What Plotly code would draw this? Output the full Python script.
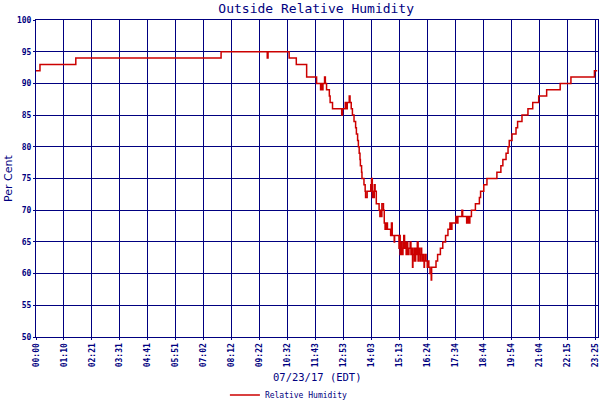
import plotly.graph_objects as go

# Data: minutes since midnight (07/23/17) and relative humidity (%)
time_min = [0, 10, 100, 465, 581, 583, 636, 654, 680, 705, 715, 717, 720, 721, 725, 727, 730,
            737, 739, 745, 768, 770, 777, 780, 782, 787, 789, 792, 795, 799, 803, 805, 808,
            810, 812, 814, 815, 818, 819, 824, 827, 828, 832, 841, 843, 845, 847, 849, 850,
            852, 855, 862, 864, 865, 867, 869, 873, 875, 877, 878, 880, 882, 883, 891, 893,
            895, 900, 901, 912, 913, 915, 917, 920, 922, 924, 926, 929, 930, 932, 934, 935,
            937, 940, 942, 944, 946, 947, 950, 951, 954, 955, 958, 960, 961, 963, 965, 967,
            969, 971, 973, 975, 976, 979, 980, 983, 985, 987, 990, 993, 994, 1005, 1009,
            1016, 1022, 1029, 1035, 1040, 1043, 1045, 1055, 1058, 1060, 1070, 1072, 1082,
            1084, 1087, 1090, 1094, 1104, 1114, 1117, 1125, 1133, 1158, 1168, 1173, 1181,
            1186, 1189, 1196, 1206, 1210, 1221, 1236, 1248, 1263, 1283, 1317, 1344, 1403,
            1410]
rel_humidity = [92, 93, 94, 95, 94, 95, 94, 93, 91, 90, 89, 90, 89, 90, 91, 90, 89,
                88, 87, 86, 85, 86, 87, 86, 87, 88, 87, 86, 85, 84, 83, 82, 81,
                80, 79, 78, 77, 76, 75, 74, 73, 72, 73, 74, 75, 72, 73, 72, 74,
                73, 71, 70, 69, 70, 69, 71, 70, 68, 67, 68, 67, 68, 67, 66, 68,
                66, 65, 66, 64, 66, 63, 65, 63, 64, 66, 64, 65, 63, 65, 64, 63,
                64, 65, 63, 64, 61, 63, 64, 62, 64, 63, 65, 62, 64, 63, 62, 64,
                63, 62, 63, 61, 62, 63, 62, 61, 62, 61, 60, 59, 61, 62, 63,
                64, 65, 66, 67, 68, 67, 68, 69, 68, 69, 70, 69, 68,
                69, 68, 69, 70, 71, 72, 73, 74, 75, 76, 77, 78, 79,
                80, 81, 82, 83, 84, 85, 86, 87, 88, 89, 90, 91, 92,
                92]

tick_labels = ["00:00", "01:10", "02:21", "03:31", "04:41", "05:51", "07:02", "08:12",
               "09:22", "10:32", "11:43", "12:53", "14:03", "15:13", "16:24", "17:34",
               "18:44", "19:54", "21:04", "22:15", "23:25"]
tick_step = 70.275
y_ticks = [50, 55, 60, 65, 70, 75, 80, 85, 90, 95, 100]

NAVY = "#000080"
RED = "#cc0000"
MONO = "DejaVu Sans Mono"

fig = go.Figure()
fig.add_trace(go.Scatter(
    x=time_min, y=rel_humidity, mode="lines", name="Relative Humidity",
    line=dict(color=RED, width=1.5, shape="hv"),
))

fig.update_layout(
    width=600, height=400,
    paper_bgcolor="white", plot_bgcolor="white",
    margin=dict(l=36, r=2, t=20, b=63, autoexpand=False),
    title=dict(text="Outside Relative Humidity", x=0.527, xanchor="center",
               y=0.98, yanchor="middle", yref="container",
               font=dict(family=MONO, size=13, color=NAVY)),
    showlegend=True,
    legend=dict(orientation="h", x=0.45, xanchor="center", y=-0.183, yanchor="middle",
                font=dict(family=MONO, size=8, color=NAVY),
                bgcolor="rgba(0,0,0,0)", itemwidth=30),
    annotations=[
        dict(text="07/23/17 (EDT)", xref="paper", yref="paper", x=0.5, y=-0.126,
             xanchor="center", yanchor="middle", showarrow=False,
             font=dict(family=MONO, size=10.5, color=NAVY)),
        dict(text="Per Cent", xref="paper", yref="paper", x=-0.049, y=0.5,
             xanchor="center", yanchor="middle", showarrow=False, textangle=-90,
             font=dict(family="DejaVu Sans", size=11, color=NAVY)),
    ],
)

fig.update_xaxes(
    range=[0, 1412], tickmode="array", automargin=False,
    tickvals=[i * tick_step for i in range(len(tick_labels))],
    ticktext=tick_labels, tickangle=-90, ticklabeloverflow="allow",
    tickfont=dict(family=MONO, size=8, color=NAVY, weight="bold"),
    showgrid=True, gridcolor=NAVY, gridwidth=1,
    showline=True, linecolor=NAVY, linewidth=1, mirror=True,
    ticks="outside", ticklen=2, tickcolor=NAVY, zeroline=False,
)
fig.update_yaxes(
    range=[50, 100], tickmode="array", tickvals=y_ticks, automargin=False,
    ticktext=[str(v) for v in y_ticks],
    tickfont=dict(family=MONO, size=8, color=NAVY, weight="bold"),
    showgrid=True, gridcolor=NAVY, gridwidth=1,
    showline=True, linecolor=NAVY, linewidth=1, mirror=True,
    ticks="outside", ticklen=2, tickcolor=NAVY, zeroline=False,
)

fig.write_html(
    "out.html",
    config={"responsive": False, "displayModeBar": False},
    post_script="document.body.style.margin='0';document.body.style.overflow='hidden';",
)
